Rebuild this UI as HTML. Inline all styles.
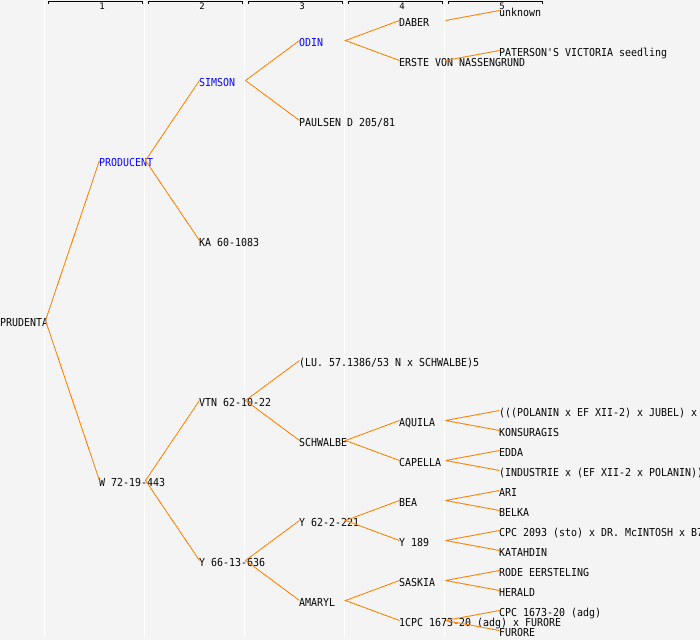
<!DOCTYPE html>
<html>
<head>
<meta charset="utf-8">
<style>
html,body{margin:0;padding:0;background:#f4f4f4;width:700px;height:640px;overflow:hidden}
svg{display:block}
text{font-family:"DejaVu Sans Mono","Liberation Mono",monospace;font-size:11px;fill:#000;text-rendering:geometricPrecision}
.b{fill:#0000ff}
.h{font-size:9px;text-anchor:middle}
.g{stroke:#fff;stroke-width:1;shape-rendering:crispEdges}
.k{stroke:#000;stroke-width:1;fill:none;shape-rendering:crispEdges}
.o{stroke:#ff8000;stroke-width:1;fill:none;shape-rendering:crispEdges}
</style>
</head>
<body>
<svg width="700" height="640" viewBox="0 0 700 640" xmlns="http://www.w3.org/2000/svg">
<rect width="700" height="640" fill="#f4f4f4"/>
<g class="g">
<line x1="44.5" y1="0" x2="44.5" y2="638"/>
<line x1="144.5" y1="0" x2="144.5" y2="638"/>
<line x1="244.5" y1="0" x2="244.5" y2="638"/>
<line x1="344.5" y1="0" x2="344.5" y2="638"/>
<line x1="444.5" y1="0" x2="444.5" y2="638"/>
</g>
<g class="k">
<path d="M48.5 4V1.5H142.5V4"/>
<path d="M148.5 4V1.5H242.5V4"/>
<path d="M248.5 4V1.5H342.5V4"/>
<path d="M348.5 4V1.5H442.5V4"/>
<path d="M448.5 4V1.5H542.5V4"/>
</g>
<text class="h" x="102" y="9">1</text>
<text class="h" x="202" y="9">2</text>
<text class="h" x="302" y="9">3</text>
<text class="h" x="402" y="9">4</text>
<text class="h" x="502" y="9">5</text>

<g transform="scale(.906,1)">
<text x="0" y="326">PRUDENTA</text>
<text class="b" x="109.3" y="166">PRODUCENT</text>
<text x="109.3" y="486">W 72-19-443</text>
<text class="b" x="219.6" y="86">SIMSON</text>
<text x="219.6" y="246">KA 60-1083</text>
<text x="219.6" y="406">VTN 62-10-22</text>
<text x="219.6" y="566">Y 66-13-636</text>
<text class="b" x="330" y="46">ODIN</text>
<text x="330" y="126">PAULSEN D 205/81</text>
<text x="330" y="366">(LU. 57.1386/53 N x SCHWALBE)5</text>
<text x="330" y="446">SCHWALBE</text>
<text x="330" y="526">Y 62-2-221</text>
<text x="330" y="606">AMARYL</text>
<text x="440.4" y="26">DABER</text>
<text x="440.4" y="66">ERSTE VON NASSENGRUND</text>
<text x="440.4" y="426">AQUILA</text>
<text x="440.4" y="466">CAPELLA</text>
<text x="440.4" y="506">BEA</text>
<text x="440.4" y="546">Y 189</text>
<text x="440.4" y="586">SASKIA</text>
<text x="440.4" y="626">1CPC 1673-20 (adg) x FURORE</text>
<text x="550.8" y="16">unknown</text>
<text x="550.8" y="56">PATERSON'S VICTORIA seedling</text>
<text x="550.8" y="416">(((POLANIN x EF XII-2) x JUBEL) x VORAN</text>
<text x="550.8" y="436">KONSURAGIS</text>
<text x="550.8" y="456">EDDA</text>
<text x="550.8" y="476">(INDUSTRIE x (EF XII-2 x POLANIN))</text>
<text x="550.8" y="496">ARI</text>
<text x="550.8" y="516">BELKA</text>
<text x="550.8" y="536">CPC 2093 (sto) x DR. McINTOSH x B7</text>
<text x="550.8" y="556">KATAHDIN</text>
<text x="550.8" y="576">RODE EERSTELING</text>
<text x="550.8" y="596">HERALD</text>
<text x="550.8" y="616">CPC 1673-20 (adg)</text>
<text x="550.8" y="636">FURORE</text>
</g>

<g class="o">
<path d="M99.5 160.5L45.5 320.5L99.5 480.5"/>
<path d="M199.5 80.5L145.5 160.5L199.5 240.5"/>
<path d="M199.5 400.5L145.5 480.5L199.5 560.5"/>
<path d="M299.5 40.5L245.5 80.5L299.5 120.5"/>
<path d="M299.5 360.5L245.5 400.5L299.5 440.5"/>
<path d="M299.5 520.5L245.5 560.5L299.5 600.5"/>
<path d="M399.5 20.5L345.5 40.5L399.5 60.5"/>
<path d="M399.5 420.5L345.5 440.5L399.5 460.5"/>
<path d="M399.5 500.5L345.5 520.5L399.5 540.5"/>
<path d="M399.5 580.5L345.5 600.5L399.5 620.5"/>
<path d="M445.5 20.5L499.5 10.5"/>
<path d="M445.5 60.5L499.5 50.5"/>
<path d="M499.5 410.5L445.5 420.5L499.5 430.5"/>
<path d="M499.5 450.5L445.5 460.5L499.5 470.5"/>
<path d="M499.5 490.5L445.5 500.5L499.5 510.5"/>
<path d="M499.5 530.5L445.5 540.5L499.5 550.5"/>
<path d="M499.5 570.5L445.5 580.5L499.5 590.5"/>
<path d="M499.5 610.5L445.5 620.5L499.5 630.5"/>
</g>
</svg>
</body>
</html>
